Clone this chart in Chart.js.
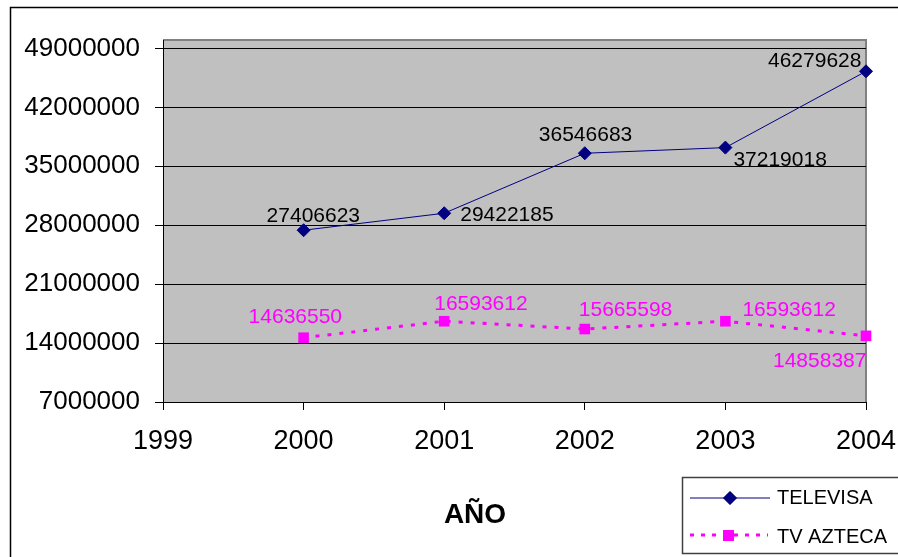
<!DOCTYPE html>
<html>
<head>
<meta charset="utf-8">
<style>
  html, body { margin: 0; padding: 0; background: #fff; }
  #wrap { width: 898px; height: 557px; position: relative; }
</style>
<script src="https://cdn.jsdelivr.net/npm/chart.js@4.4.1/dist/chart.umd.min.js"></script>
</head>
<body>
<div id="wrap"><canvas id="chart" width="898" height="557"></canvas></div>
<script>
const years = [2000, 2001, 2002, 2003, 2004];
const televisa = [27406623, 29422185, 36546683, 37219018, 46279628];
const tvAzteca = [14636550, 16593612, 15665598, 16593612, 14858387];
const yTicks = [7000000, 14000000, 21000000, 28000000, 35000000, 42000000, 49000000];
const seriesNames = ['TELEVISA', 'TV AZTECA'];
const axisTitle = 'AÑO';

// where each value label sits, relative to its point (left edge, baseline)
const televisaLabelDx = [-37, 16, -46, 8, -98];
const televisaLabelDy = [-8, 8, -12, 18, -4];
const aztecaLabelDx = [-55, -10, -6, 17, -93];
const aztecaLabelDy = [-15, -11, -13, -5, 31];

const FONT = '"Liberation Sans", Arial, sans-serif';

const frame = {
    id: 'frame',
    beforeDraw(chart) {
        const { ctx, chartArea: a } = chart;
        ctx.save();
        ctx.fillStyle = '#c0c0c0';
        ctx.fillRect(a.left, a.top, a.right - a.left, a.bottom - a.top);
        ctx.strokeStyle = '#808080';
        ctx.lineWidth = 2;
        ctx.beginPath();
        ctx.moveTo(a.left, a.top);
        ctx.lineTo(a.right, a.top);
        ctx.lineTo(a.right, a.bottom);
        ctx.stroke();
        // outer chart border (left and top only are visible)
        ctx.strokeStyle = '#000';
        ctx.lineWidth = 1.5;
        ctx.beginPath();
        ctx.moveTo(10.5, 557);
        ctx.lineTo(10.5, 7.5);
        ctx.lineTo(898, 7.5);
        ctx.stroke();
        ctx.restore();
    },
    afterDraw(chart) {
        const ctx = chart.ctx;
        ctx.save();

        // value labels
        ctx.font = '21px ' + FONT;
        ctx.textBaseline = 'alphabetic';
        ctx.textAlign = 'left';
        const sets = [
            { meta: chart.getDatasetMeta(0), vals: televisa, dx: televisaLabelDx, dy: televisaLabelDy, color: '#000' },
            { meta: chart.getDatasetMeta(1), vals: tvAzteca, dx: aztecaLabelDx, dy: aztecaLabelDy, color: '#ff00ff' }
        ];
        sets.forEach(s => {
            ctx.fillStyle = s.color;
            s.meta.data.forEach((pt, i) => {
                ctx.fillText(String(s.vals[i]), pt.x + s.dx[i], pt.y + s.dy[i]);
            });
        });

        // axis title
        ctx.fillStyle = '#000';
        ctx.font = 'bold 28px ' + FONT;
        ctx.textAlign = 'center';
        ctx.fillText(axisTitle, 475, 523);

        // legend box
        ctx.strokeStyle = '#404040';
        ctx.lineWidth = 1.5;
        ctx.strokeRect(682.5, 477.5, 230, 76);

        ctx.strokeStyle = '#000080';
        ctx.lineWidth = 1;
        ctx.beginPath();
        ctx.moveTo(690, 498);
        ctx.lineTo(770, 498);
        ctx.stroke();
        Chart.helpers.drawPoint(ctx, { pointStyle: 'rectRot', radius: 6.5, borderWidth: 1 }, 730, 498);
        ctx.fillStyle = '#000080';
        ctx.fill();

        ctx.strokeStyle = '#ff00ff';
        ctx.lineWidth = 3;
        ctx.setLineDash([4, 7]);
        ctx.beginPath();
        ctx.moveTo(690, 535);
        ctx.lineTo(768, 535);
        ctx.stroke();
        ctx.setLineDash([]);
        ctx.fillStyle = '#ff00ff';
        ctx.fillRect(723, 530, 11, 11);

        ctx.fillStyle = '#000';
        ctx.font = '20px ' + FONT;
        ctx.textAlign = 'left';
        ctx.fillText(seriesNames[0], 777, 504);
        ctx.fillText(seriesNames[1], 777, 543);
        ctx.restore();
    }
};

new Chart(document.getElementById('chart'), {
    type: 'line',
    data: {
        datasets: [
            {
                label: seriesNames[0],
                data: years.map((y, i) => ({ x: y, y: televisa[i] })),
                borderColor: '#000080',
                backgroundColor: '#000080',
                borderWidth: 1,
                pointStyle: 'rectRot',
                pointRadius: 6.5,
                pointBorderWidth: 1,
                tension: 0,
                clip: false
            },
            {
                label: seriesNames[1],
                data: years.map((y, i) => ({ x: y, y: tvAzteca[i] })),
                borderColor: '#ff00ff',
                backgroundColor: '#ff00ff',
                borderWidth: 3,
                borderDash: [4, 8],
                pointStyle: 'rect',
                pointRadius: 7.5,
                pointBorderWidth: 0,
                tension: 0,
                clip: false
            }
        ]
    },
    options: {
        responsive: false,
        animation: false,
        events: [],
        layout: { padding: { left: 20, top: 40, right: 32, bottom: 100 } },
        plugins: {
            legend: { display: false },
            tooltip: { enabled: false }
        },
        scales: {
            x: {
                type: 'linear',
                min: 1999,
                max: 2004,
                ticks: {
                    stepSize: 1,
                    padding: 15,
                    color: '#000',
                    font: { family: FONT, size: 27 },
                    callback: v => String(v)
                },
                grid: { drawOnChartArea: false, tickLength: 8, color: '#000' },
                border: { color: '#000', width: 1 },
                afterFit: s => { s.height = 55; s.paddingLeft = 0; s.paddingRight = 0; }
            },
            y: {
                type: 'linear',
                min: 7000000,
                max: 50000000,
                afterBuildTicks: s => { s.ticks = yTicks.map(v => ({ value: v })); },
                ticks: {
                    padding: 15,
                    color: '#000',
                    font: { family: FONT, size: 26 },
                    callback: v => String(v)
                },
                grid: { color: '#000', tickLength: 8 },
                border: { color: '#000', width: 1 },
                afterFit: s => { s.width = 143; s.paddingTop = 0; s.paddingBottom = 0; }
            }
        }
    },
    plugins: [frame]
});
</script>
</body>
</html>
